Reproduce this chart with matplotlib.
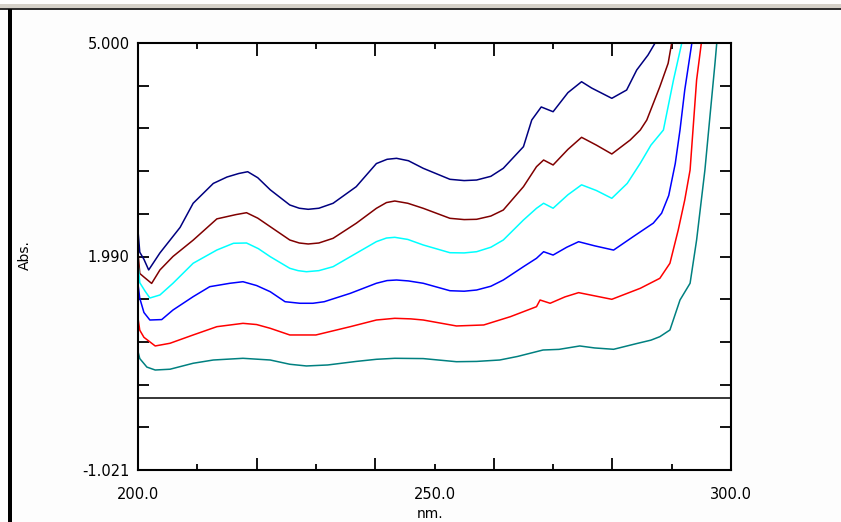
import matplotlib
matplotlib.use('Agg')
import matplotlib.pyplot as plt
from matplotlib.patches import Rectangle

# absorbance spectra (nm, Abs.)
wl_navy = [200.0, 200.3, 201.0, 201.8, 203.7, 205.4, 207.1, 209.3, 212.7, 215.0, 217.0, 218.5,
           220.2, 222.3, 225.6, 227.2, 228.7, 230.5, 232.9, 236.8, 240.2, 242.0, 243.6, 245.6,
           248.1, 252.6, 255.0, 257.1, 259.5, 261.6, 265.0, 266.4, 268.0, 270.0, 272.5,
           274.8, 276.5, 279.9, 282.4, 284.1, 286.0, 287.2, 288.0]
abs_navy = [2.35, 2.05, 1.95, 1.80, 2.04, 2.22, 2.40, 2.74, 3.02, 3.11, 3.16, 3.185,
            3.10, 2.93, 2.716, 2.67, 2.655, 2.67, 2.74, 2.974, 3.30, 3.36, 3.374, 3.34,
            3.233, 3.078, 3.06, 3.068, 3.12, 3.233, 3.538, 3.914, 4.098, 4.031, 4.30,
            4.454, 4.365, 4.22, 4.337, 4.619, 4.83, 5.0, 5.3]

wl_maroon = [200.0, 200.3, 201.0, 202.3, 203.7, 205.9, 209.3, 213.3, 216.5, 218.3, 220.2,
             222.3, 225.6, 227.2, 228.7, 230.5, 232.9, 236.8, 240.2, 241.9, 243.3, 245.5,
             248.1, 252.6, 255.0, 257.1, 259.5, 261.6, 265.0, 267.2, 268.4, 270.0, 272.5,
             274.8, 277.3, 279.9, 283.0, 284.7, 285.8, 288.0, 289.4, 290.0, 290.5]
abs_maroon = [2.05, 1.75, 1.70, 1.61, 1.80, 1.99, 2.22, 2.52, 2.58, 2.607, 2.53,
              2.41, 2.222, 2.18, 2.166, 2.18, 2.246, 2.458, 2.669, 2.75, 2.772, 2.74,
              2.669, 2.528, 2.51, 2.514, 2.56, 2.645, 2.974, 3.256, 3.35, 3.28, 3.50,
              3.67, 3.56, 3.435, 3.632, 3.773, 3.914, 4.384, 4.714, 5.0, 5.3]

wl_cyan = [200.0, 200.3, 201.2, 202.0, 203.7, 205.9, 209.3, 213.3, 216.1, 218.3, 220.3,
           222.3, 225.6, 227.0, 228.4, 230.5, 232.9, 236.8, 240.2, 241.9, 243.3, 245.5,
           248.1, 252.6, 255.0, 257.1, 259.5, 261.6, 265.0, 267.2, 268.4, 270.0, 272.5,
           274.8, 277.3, 279.9, 282.5, 284.7, 286.5, 288.6, 290.3, 291.7, 292.2]
abs_cyan = [1.90, 1.62, 1.50, 1.404, 1.447, 1.612, 1.894, 2.081, 2.176, 2.18, 2.10,
            1.987, 1.823, 1.79, 1.775, 1.79, 1.846, 2.035, 2.199, 2.25, 2.26, 2.23,
            2.152, 2.043, 2.04, 2.057, 2.12, 2.222, 2.504, 2.669, 2.74, 2.67, 2.86,
            3.0, 2.92, 2.81, 3.02, 3.304, 3.56, 3.773, 4.478, 5.0, 5.3]

wl_blue = [200.0, 200.3, 201.0, 202.0, 204.0, 205.9, 209.3, 212.1, 215.5, 217.7, 220.0,
           222.3, 224.8, 227.3, 229.5, 231.4, 235.8, 240.2, 242.0, 243.6, 245.6, 248.1,
           252.6, 255.0, 257.1, 259.5, 261.6, 265.0, 267.2, 268.4, 270.0, 272.3, 274.3,
           277.0, 280.2, 283.5, 286.9, 288.3, 289.5, 290.6, 291.4, 292.2, 293.4, 293.8]
abs_blue = [1.60, 1.40, 1.20, 1.094, 1.10, 1.235, 1.423, 1.564, 1.612, 1.634, 1.58,
            1.493, 1.352, 1.33, 1.33, 1.352, 1.47, 1.612, 1.65, 1.658, 1.645, 1.612,
            1.507, 1.50, 1.517, 1.57, 1.658, 1.846, 1.964, 2.057, 2.01, 2.12, 2.198,
            2.14, 2.08, 2.269, 2.46, 2.60, 2.85, 3.30, 3.773, 4.337, 5.0, 5.3]

wl_red = [200.0, 200.3, 201.0, 202.9, 205.4, 209.3, 213.3, 217.7, 220.0,
          222.3, 225.6, 230.0, 235.8, 240.2, 243.3, 246.0, 248.1, 253.7, 258.3, 262.8,
          267.2, 267.8, 269.5, 272.0, 274.3, 279.9, 284.7, 288.0, 289.7, 291.1, 292.2,
          293.1, 294.2, 295.0, 295.3]
abs_red = [1.12, 0.95, 0.85, 0.728, 0.766, 0.883, 1.0, 1.047, 1.03,
           0.977, 0.883, 0.883, 1.0, 1.094, 1.118, 1.11, 1.094, 1.01, 1.024, 1.141,
           1.282, 1.376, 1.33, 1.42, 1.48, 1.386, 1.541, 1.682, 1.894, 2.363, 2.786,
           3.209, 4.478, 5.0, 5.3]

wl_teal = [200.0, 200.3, 201.5, 202.9, 205.4, 209.3, 212.7, 217.7, 222.3, 225.6,
           228.4, 232.0, 236.8, 240.2, 243.3, 248.1, 253.7, 257.1, 261.0, 264.0,
           268.3, 271.0, 274.5, 277.0, 280.2, 284.0, 286.5, 288.0, 289.7, 291.4,
           293.1, 294.2, 295.0, 295.6, 296.5, 297.3, 297.6, 297.8]
abs_teal = [0.65, 0.55, 0.43, 0.389, 0.40, 0.484, 0.53, 0.554, 0.53, 0.47,
            0.446, 0.46, 0.51, 0.54, 0.554, 0.55, 0.506, 0.51, 0.53, 0.58,
            0.671, 0.68, 0.728, 0.70, 0.681, 0.76, 0.81, 0.859, 0.953, 1.376,
            1.612, 2.222, 2.786, 3.209, 4.009, 4.714, 5.0, 5.3]

series = [
    (wl_navy, abs_navy, '#000080'),
    (wl_maroon, abs_maroon, '#800000'),
    (wl_cyan, abs_cyan, '#00ffff'),
    (wl_blue, abs_blue, '#0000ff'),
    (wl_red, abs_red, '#ff0000'),
    (wl_teal, abs_teal, '#008080'),
]

y_min, y_max = -1.021, 5.000
y_labels = ['5.000', '1.990', '-1.021']

plt.rc('font', family=['DejaVu Sans'], size=10.5)

fig = plt.figure(figsize=(8.41, 5.22), dpi=100)
fig.patch.set_facecolor('#fdfdfd')
H = 522.0
W = 841.0

# window frame bits
fig.add_artist(Rectangle((0, (H - 8) / H), 1, 4 / H, transform=fig.transFigure,
                         facecolor='#d4d0c8', edgecolor='none'))
fig.add_artist(Rectangle((0, (H - 10) / H), 1, 2 / H, transform=fig.transFigure,
                         facecolor='#303030', edgecolor='none'))
fig.add_artist(Rectangle((8 / W, 0), 4 / W, (H - 9) / H, transform=fig.transFigure,
                         facecolor='black', edgecolor='none'))

ax = fig.add_axes([138 / W, 52 / H, 593 / W, 427 / H])
ax.set_facecolor('white')

for x, y, c in series:
    ax.plot(x, y, color=c, lw=1.1)

ax.axhline(0, color='black', lw=1.1)

ax.set_xlim(200, 300)
ax.set_ylim(y_min, y_max)

step = (y_max - y_min) / 10
yt = [y_max - i * step for i in range(11)]
ax.set_yticks(yt)
ax.set_yticklabels([y_labels[0] if i == 0 else y_labels[1] if i == 5 else
                    y_labels[2] if i == 10 else '' for i in range(11)])

ax.set_xticks([200, 210, 230, 250, 270, 290, 300])
ax.set_xticklabels(['200.0', '', '', '250.0', '', '', '300.0'])
ax.set_xticks([220, 240, 260, 280], minor=True)

ax.tick_params(axis='y', which='major', direction='in', length=8, width=1.3,
               left=True, right=True, pad=6)
ax.tick_params(axis='x', which='major', direction='in', length=4, width=1.3,
               top=True, bottom=True, pad=12)
ax.tick_params(axis='x', which='minor', direction='in', length=9, width=1.3,
               top=True, bottom=True)

for s in ax.spines.values():
    s.set_linewidth(1.5)

fig.text(25 / W, 1 - 255 / H, 'Abs.', rotation=90, ha='center', va='center', fontsize=10)
fig.text(430 / W, 1 - 514 / H, 'nm.', ha='center', va='center', fontsize=10)

fig.savefig('out.png', dpi=100, facecolor=fig.get_facecolor())
